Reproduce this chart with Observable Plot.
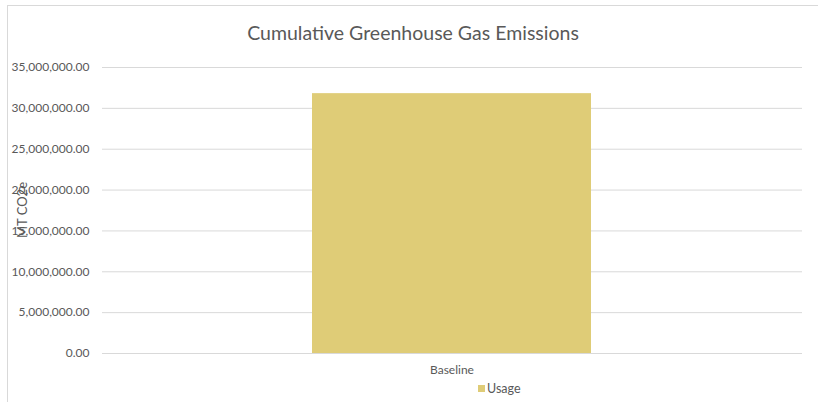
<!DOCTYPE html>
<html>
<head>
<meta charset="utf-8">
<script src="https://cdn.jsdelivr.net/npm/d3@7"></script>
<script src="https://cdn.jsdelivr.net/npm/@observablehq/plot@0.6"></script>
<style>
  html, body { margin: 0; padding: 0; background: #fff; }
  #wrap { position: relative; width: 818px; height: 402px; overflow: hidden; font-family: Lato, "Open Sans", sans-serif; color: #595959; }
  #frame { position: absolute; left: 7px; top: 5px; width: 830px; height: 420px; border: 1px solid #d9d9d9; box-sizing: border-box; }
  #title { position: absolute; left: 0; width: 826px; top: 21px; text-align: center; font-size: 19.5px; color: #595959; }
  #ylab { position: absolute; left: 22px; top: 210px; transform: translate(-50%, -50%) rotate(-90deg); font-size: 13px; white-space: nowrap; }
  #legend { position: absolute; top: 381px; left: 478px; font-size: 12.5px; display: flex; align-items: center; }
  #legend .sw { width: 7px; height: 7px; margin-right: 2px; }
  svg { position: absolute; left: 0; top: 0; }
</style>
</head>
<body>
<div id="wrap">
  <div id="frame"></div>
  <div id="chart"></div>
  <div id="title"></div>
  <div id="ylab"></div>
  <div id="legend"></div>
</div>
<script>
const chartTitle = "Cumulative Greenhouse Gas Emissions";
const yAxisLabel = "MT CO2e";
const categories = ["Baseline"];
const seriesName = "Usage";
const usageValues = [31800000];
const yTicks = [0, 5000000, 10000000, 15000000, 20000000, 25000000, 30000000, 35000000];
const barColor = "#dfcc77";

const data = categories.map((c, i) => ({category: c, value: usageValues[i]}));
const fmt = d3.format(",.2f");

const plot = Plot.plot({
  width: 818,
  height: 402,
  marginTop: 67,
  marginBottom: 49,
  marginLeft: 102,
  marginRight: 16,
  style: {fontFamily: "Lato, 'Open Sans', sans-serif", fontSize: "12px", color: "#595959", background: "transparent"},
  x: {domain: categories, padding: 0.4286, label: null},
  y: {domain: [0, 35000000], label: null},
  marks: [
    Plot.gridY(yTicks, {stroke: "#d9d9d9", strokeOpacity: 1, strokeWidth: 1}),
    Plot.barY(data, {x: "category", y: "value", fill: barColor}),
    Plot.axisY(yTicks, {tickSize: 0, tickPadding: 13, tickFormat: fmt, label: null, fill: "#595959"}),
    Plot.axisX({tickSize: 0, tickPadding: 12, label: null, fill: "#595959"})
  ]
});
document.getElementById("chart").appendChild(plot);
document.getElementById("title").textContent = chartTitle;
document.getElementById("ylab").textContent = yAxisLabel;
const lg = document.getElementById("legend");
const sw = document.createElement("span"); sw.className = "sw"; sw.style.background = barColor;
const lt = document.createElement("span"); lt.textContent = seriesName;
lg.appendChild(sw); lg.appendChild(lt);
</script>
</body>
</html>
